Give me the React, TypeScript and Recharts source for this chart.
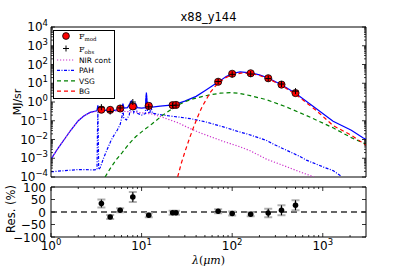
import React from 'react';
import {
  ComposedChart,
  Line,
  Scatter,
  XAxis,
  YAxis,
  ReferenceArea,
  ReferenceLine,
  ErrorBar,
  Legend,
} from 'recharts';

// wavelengths in micron, brightness in MJ/sr
const totalWave = [1.0, 1.2, 1.4, 1.66, 2.0, 2.3, 2.7, 3.2, 3.25, 3.29, 3.33, 3.4, 4.0, 5.0, 5.8, 6.1, 6.22, 6.4, 7.0, 7.7, 8.2, 8.6, 9.0, 10, 11.0, 11.3, 11.6, 12.3, 12.7, 13.2, 16, 22.6, 30, 40, 50, 60, 72, 85, 100, 122, 160, 200, 250, 350, 500, 850, 1300, 2066, 2800, 3000];
const totalFlux = [8.9e-4, 3.5e-3, 1.0e-2, 3.2e-2, 0.1, 0.18, 0.28, 0.34, 0.45, 0.66, 0.45, 0.35, 0.36, 0.36, 0.4, 0.5, 0.83, 0.47, 0.5, 1.12, 0.63, 0.83, 0.5, 0.47, 0.5, 3.2, 0.56, 0.5, 0.79, 0.54, 0.6, 0.71, 1.12, 2.0, 4.0, 7.1, 12.6, 22, 33, 40, 36, 28, 19, 8.3, 2.95, 0.44, 0.095, 0.031, 0.012, 0.0105];

const nirWave = [1.0, 1.2, 1.4, 1.66, 2.0, 2.3, 2.7, 3.2, 3.6, 4.0, 4.5, 5.0, 6.0, 8.6, 13, 16, 25, 34.5, 45, 80, 122, 158, 240, 400, 556, 800];
const nirFlux = [8.9e-4, 3.5e-3, 1.0e-2, 3.2e-2, 0.1, 0.18, 0.27, 0.32, 0.34, 0.35, 0.34, 0.33, 0.32, 0.29, 0.23, 0.17, 0.079, 0.038, 0.022, 7.9e-3, 4.1e-3, 2.5e-3, 8.9e-4, 3.5e-4, 1.9e-4, 1.0e-4];

const pahWave = [1.0, 2.0, 3.0, 3.22, 3.26, 3.29, 3.32, 3.36, 3.5, 3.8, 4.2, 4.6, 5.0, 5.4, 5.8, 6.1, 6.22, 6.35, 6.8, 7.3, 7.7, 8.2, 8.6, 9.0, 10, 11.0, 11.3, 11.6, 12.3, 12.7, 13.2, 17, 25, 34.5, 50, 80, 122, 145, 240, 286, 556, 660, 1000, 1300, 1600];
const pahFlux = [1.9e-4, 2.5e-4, 2.4e-4, 2.5e-4, 0.032, 0.28, 0.032, 2.5e-4, 3.2e-4, 1.0e-3, 3.2e-3, 8.9e-3, 0.018, 0.032, 0.063, 0.18, 0.45, 0.14, 0.11, 0.2, 0.89, 0.28, 0.56, 0.25, 0.2, 0.24, 2.6, 0.32, 0.24, 0.56, 0.25, 0.2, 0.16, 0.13, 0.089, 0.047, 0.025, 0.02, 8.9e-3, 5.6e-3, 1.26e-3, 7.9e-4, 3.5e-4, 2.2e-4, 1.1e-4];

const vsgWave = [3.95, 4.5, 5.2, 6.1, 7.2, 8.6, 10.6, 13.1, 16.9, 22.6, 29.2, 37, 46.4, 57, 73.7, 95, 120, 158, 240, 398, 660, 1300, 2066, 3000];
const vsgFlux = [1.0e-4, 2.8e-4, 7.9e-4, 2.0e-3, 5.6e-3, 0.014, 0.032, 0.069, 0.19, 0.5, 0.98, 1.48, 1.95, 2.4, 2.95, 3.16, 2.9, 2.2, 1.32, 0.54, 0.19, 0.042, 0.0126, 5.6e-3];

const bgWave = [25, 27.5, 30.5, 34, 37.6, 42, 46.4, 52, 57.3, 64, 70.6, 85, 100, 130, 160, 200, 250, 350, 500, 850, 1300, 2066, 3000];
const bgFlux = [1.0e-4, 5.6e-4, 2.7e-3, 0.0126, 0.047, 0.18, 0.54, 1.41, 3.3, 6.3, 10.5, 20, 28, 36, 33, 26, 17.8, 7.6, 2.6, 0.35, 0.055, 0.017, 5.0e-3];

// photometric bands
const bandWave = [3.6, 4.5, 5.8, 8.0, 12, 22, 24, 70, 100, 160, 250, 350, 500];
const modFlux = [0.39, 0.38, 0.45, 0.58, 0.62, 0.68, 0.7, 12, 32, 34, 18.5, 8.5, 3.0];
const obsFlux = [0.53, 0.31, 0.48, 1.0, 0.55, 0.66, 0.68, 12.4, 30, 31, 17.8, 9.1, 3.8];
const resValue = [34, -20, 7, 60, -13, -3, -3, 3, -6, -9, -4, 7, 27];
const resError = [16, 8, 8, 20, 8, 8, 8, 8, 8, 8, 17, 20, 20];

const xMajorTicks = [1, 10, 100, 1000];
const xMinorTicks = [2, 3, 4, 5, 6, 7, 8, 9, 20, 30, 40, 50, 60, 70, 80, 90, 200, 300, 400, 500, 600, 700, 800, 900, 2000];
const yMajorTicks = [1e-4, 1e-3, 1e-2, 1e-1, 1, 10, 100, 1000, 10000];
const yMinorMult = [2, 3, 4, 5, 6, 7, 8, 9];
const resTicks = [-100, -50, 0, 50, 100];

const xTicks = [...xMajorTicks, ...xMinorTicks];
const yTicks = [...yMajorTicks, ...yMajorTicks.slice(0, -1).flatMap((d) => yMinorMult.map((m) => m * d))];

const pts = (w: number[], f: number[]) => w.map((x, i) => ({ x, y: f[i] }));
const totalPts = pts(totalWave, totalFlux);
const nirPts = pts(nirWave, nirFlux);
const pahPts = pts(pahWave, pahFlux);
const vsgPts = pts(vsgWave, vsgFlux);
const bgPts = pts(bgWave, bgFlux);
const modPts = pts(bandWave, modFlux);
const obsPts = pts(bandWave, obsFlux);
const resPts = bandWave.map((x, i) => ({ x, y: resValue[i], err: resError[i] }));

const FONT = 'DejaVu Sans, sans-serif';
const PLOT_W = 315;
const TOP_H = 150;
const RES_H = 50;

const expText = (v: number) => {
  const e = Math.round(Math.log10(v));
  return e < 0 ? `\u2212${-e}` : `${e}`;
};

const makeXTick = (plotH: number, showLabel: boolean) => (props: any) => {
  const { x, y, payload } = props;
  const major = xMajorTicks.includes(payload.value);
  const len = major ? 4 : 2;
  return (
    <g>
      <line x1={x} y1={y} x2={x} y2={y - len} stroke="#000" strokeWidth={0.8} />
      <line x1={x} y1={y - plotH} x2={x} y2={y - plotH + len} stroke="#000" strokeWidth={0.8} />
      {showLabel && major && (
        <text x={x} y={y + 12.5} textAnchor="middle" fontSize={12} fontFamily={FONT} fill="#000">
          10<tspan dy={-5} fontSize={8.5}>{expText(payload.value)}</tspan>
        </text>
      )}
    </g>
  );
};

const makeYTick = (isLog: boolean) => (props: any) => {
  const { x, y, payload } = props;
  const v = payload.value;
  const major = isLog ? yMajorTicks.includes(v) : true;
  const len = major ? 4 : 2;
  return (
    <g>
      <line x1={x} y1={y} x2={x + len} y2={y} stroke="#000" strokeWidth={0.8} />
      <line x1={x + PLOT_W} y1={y} x2={x + PLOT_W - len} y2={y} stroke="#000" strokeWidth={0.8} />
      {major && isLog && (
        <text x={x - 3} y={y + 4} textAnchor="end" fontSize={12} fontFamily={FONT} fill="#000">
          10<tspan dy={-5} fontSize={8.5}>{expText(v)}</tspan>
        </text>
      )}
      {!isLog && (
        <text x={x - 5} y={y + 4.5} textAnchor="end" fontSize={12} fontFamily={FONT} fill="#000">
          {v < 0 ? `\u2212${-v}` : v}
        </text>
      )}
    </g>
  );
};

const ModMarker = (p: any) => <circle cx={p.cx} cy={p.cy} r={3.6} fill="#ff0000" stroke="#000" strokeWidth={0.8} />;
const ObsMarker = (p: any) => (
  <g stroke="#000" strokeWidth={1}>
    <line x1={p.cx - 3} y1={p.cy} x2={p.cx + 3} y2={p.cy} />
    <line x1={p.cx} y1={p.cy - 3} x2={p.cx} y2={p.cy + 3} />
  </g>
);
const ResMarker = (p: any) => <circle cx={p.cx} cy={p.cy} r={2.8} fill="#000" />;

const legendLines = [
  { name: 'NIR cont', color: '#cc33cc', dash: '1.2 1.8' },
  { name: 'PAH', color: '#0000ff', dash: '3 1.5 1 1.5' },
  { name: 'VSG', color: '#008000', dash: '4 3' },
  { name: 'BG', color: '#ff0000', dash: '4 3' },
];

const LegendBox = () => (
  <svg width={62} height={70} style={{ display: 'block' }}>
    <rect x={0.5} y={0.5} width={61} height={68} fill="#fff" stroke="#000" strokeWidth={1} />
    <circle cx={13} cy={6} r={3.4} fill="#ff0000" stroke="#000" strokeWidth={0.8} />
    <text x={26} y={9} fontSize={8} fontFamily="DejaVu Serif, serif">
      F<tspan dy={2} fontSize={5.5}>mod</tspan>
    </text>
    <g stroke="#000" strokeWidth={1}>
      <line x1={10} y1={18.5} x2={16} y2={18.5} />
      <line x1={13} y1={15.5} x2={13} y2={21.5} />
    </g>
    <text x={26} y={21.5} fontSize={8} fontFamily="DejaVu Serif, serif">
      F<tspan dy={2} fontSize={5.5}>obs</tspan>
    </text>
    {legendLines.map((l, i) => {
      const yy = 30 + i * 10.4;
      return (
        <g key={l.name}>
          <line x1={4} y1={yy} x2={22} y2={yy} stroke={l.color} strokeWidth={1.2} strokeDasharray={l.dash} />
          <text x={26} y={yy + 2.7} fontSize={7.5} fontFamily={FONT} fill="#000">{l.name}</text>
        </g>
      );
    })}
  </svg>
);

export default function App() {
  return (
    <div style={{ position: 'absolute', left: 0, top: 0, width: 407, height: 271, background: '#fff' }}>
      <div style={{ position: 'absolute', left: 0, top: 0 }}>
        <ComposedChart width={407} height={200} margin={{ top: 27, right: 41, bottom: 23, left: 0 }}>
          <XAxis
            dataKey="x"
            type="number"
            scale="log"
            domain={[1, 3000]}
            allowDataOverflow
            ticks={xTicks}
            interval={0}
            height={0}
            tickSize={0}
            tickMargin={0}
            axisLine={false}
            tickLine={false}
            tick={makeXTick(TOP_H, false)}
          />
          <YAxis
            type="number"
            scale="log"
            domain={[1e-4, 1e4]}
            allowDataOverflow
            ticks={yTicks}
            interval={0}
            width={51}
            tickSize={0}
            tickMargin={0}
            axisLine={false}
            tickLine={false}
            tick={makeYTick(true)}
          />
          <ReferenceArea x1={1} x2={3000} y1={1e-4} y2={1e4} fill="none" stroke="#000" strokeWidth={1} ifOverflow="visible" />
          <Line data={totalPts} dataKey="y" stroke="#0000ff" strokeWidth={1.2} dot={false} type="linear" isAnimationActive={false} />
          <Line data={nirPts} dataKey="y" stroke="#cc33cc" strokeWidth={1.2} strokeDasharray="1.2 1.8" dot={false} type="linear" isAnimationActive={false} />
          <Line data={pahPts} dataKey="y" stroke="#0000ff" strokeWidth={1.2} strokeDasharray="3 1.5 1 1.5" dot={false} type="linear" isAnimationActive={false} />
          <Line data={vsgPts} dataKey="y" stroke="#008000" strokeWidth={1.2} strokeDasharray="4 3" dot={false} type="linear" isAnimationActive={false} />
          <Line data={bgPts} dataKey="y" stroke="#ff0000" strokeWidth={1.2} strokeDasharray="4 3" dot={false} type="linear" isAnimationActive={false} />
          <Scatter data={modPts} dataKey="y" shape={ModMarker} isAnimationActive={false} />
          <Scatter data={obsPts} dataKey="y" shape={ObsMarker} isAnimationActive={false} />
          <Legend
            layout="vertical"
            align="center"
            verticalAlign="middle"
            content={LegendBox}
            wrapperStyle={{ left: 53, top: 30, width: 62, height: 70 }}
          />
        </ComposedChart>
      </div>
      <div style={{ position: 'absolute', left: 0, top: 180 }}>
        <ComposedChart width={407} height={91} margin={{ top: 7, right: 41, bottom: 0, left: 0 }}>
          <XAxis
            dataKey="x"
            type="number"
            scale="log"
            domain={[1, 3000]}
            allowDataOverflow
            ticks={xTicks}
            interval={0}
            height={34}
            tickSize={0}
            tickMargin={0}
            axisLine={false}
            tickLine={false}
            tick={makeXTick(RES_H, true)}
          />
          <YAxis
            type="number"
            domain={[-100, 100]}
            allowDataOverflow
            ticks={resTicks}
            interval={0}
            width={51}
            tickSize={0}
            tickMargin={0}
            axisLine={false}
            tickLine={false}
            tick={makeYTick(false)}
          />
          <ReferenceArea x1={1} x2={3000} y1={-100} y2={100} fill="none" stroke="#000" strokeWidth={1} ifOverflow="visible" />
          <ReferenceLine y={0} stroke="#333" strokeWidth={1.5} strokeDasharray="6 4" />
          <Scatter data={resPts} dataKey="y" shape={ResMarker} isAnimationActive={false}>
            <ErrorBar dataKey="err" direction="y" width={4} stroke="#b0b0b0" strokeWidth={2} />
            <ErrorBar dataKey="err" direction="y" width={0} stroke="#000" strokeWidth={1} />
          </Scatter>
        </ComposedChart>
      </div>
      <svg width={407} height={271} style={{ position: 'absolute', left: 0, top: 0, pointerEvents: 'none' }}>
        <text x={208.5} y={21} textAnchor="middle" fontSize={11.5} fontFamily={FONT}>x88_y144</text>
        <text transform="translate(20.5,102) rotate(-90)" textAnchor="middle" fontSize={11} fontFamily={FONT}>MJ/sr</text>
        <text transform="translate(15,209) rotate(-90)" textAnchor="middle" fontSize={11.5} fontFamily={FONT}>Res. (%)</text>
        <text x={208.5} y={264} textAnchor="middle" fontSize={11} fontFamily="DejaVu Serif, serif">
          <tspan fontStyle="italic">λ</tspan>(<tspan fontStyle="italic">μm</tspan>)
        </text>
      </svg>
    </div>
  );
}
